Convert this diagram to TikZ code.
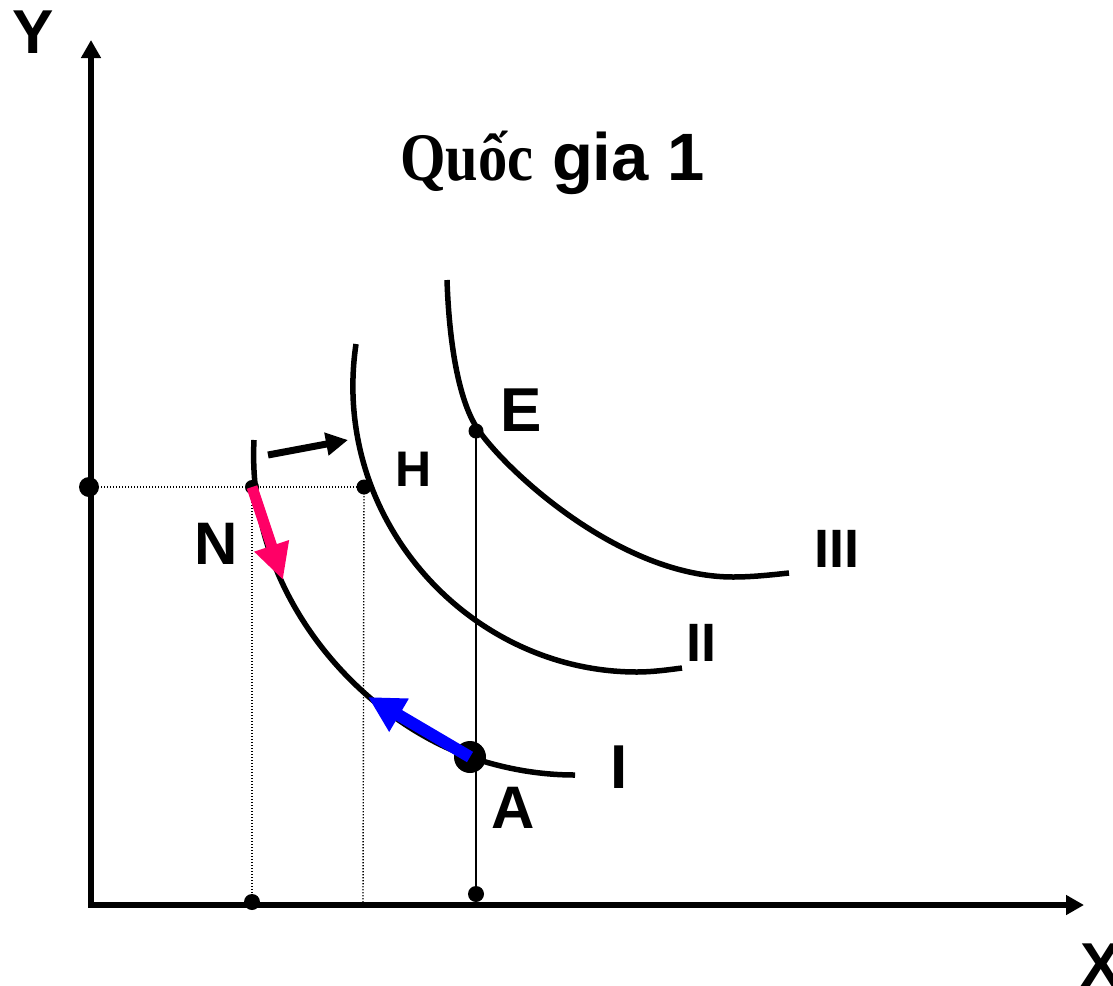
\documentclass[tikz,border=0pt]{standalone}
\usepackage{graphicx}
\usepackage{fontspec}
\setmainfont{Liberation Sans}
\newfontfamily\titleserif{Liberation Serif}
\usetikzlibrary{arrows.meta}
\definecolor{pinkarr}{RGB}{255,0,102}
\definecolor{bluearr}{RGB}{0,0,255}
\tikzset{
  axisline/.style={line width=5.5pt,-{Triangle[length=18pt,width=19pt]}},
  curveline/.style={line width=5.5pt},
  dotline/.style={line width=1.4pt,dash pattern=on 1.4pt off 1.6pt},
  thinline/.style={line width=1.8pt},
  dotnode/.style={circle,fill=black,inner sep=0pt,minimum size=#1},
  dotnode/.default=15pt,
  lbl/.style={font=\fontsize{#1}{#1}\selectfont\bfseries,inner sep=0pt},
  lbl/.default=62pt,
}
\begin{document}
\begin{tikzpicture}[x=1pt,y=-1pt]
\useasboundingbox (0,0) rectangle (1113,985);
\fill[white] (0,0) rectangle (1113,985);
% axes
\coordinate (O) at (91,905);
\coordinate (ytip) at (91,40);
\coordinate (xtip) at (1084,905);
\draw[axisline] (O) -- (ytip);
\draw[axisline] ([xshift=-2.75pt]O) -- (xtip);
% dots (positions)
\node[dotnode=20pt] (Yd) at (89,487) {};
\node[dotnode=14pt] (N) at (252,487) {};
\node[dotnode=15pt] (H) at (364,487) {};
\node[dotnode=15pt] (E) at (476,431) {};
\node[dotnode=16pt] (XN) at (252,902) {};
\node[dotnode=16pt] (XE) at (476,894) {};
\coordinate (XH) at (363,903);
% guide lines
\draw[dotline] (Yd.center) -- (H.center);
\draw[dotline] (N.center) -- (XN.center);
\draw[dotline] (H.center) -- (XH);
\draw[thinline] (E.center) -- (XE.center);
% indifference curves
\draw[curveline] (254,440) .. controls (246,600) and (366,721) .. (470,757)
                 .. controls (505,769) and (540,775) .. (575,775);
\draw[curveline] (356,344) .. controls (330,520) and (470,672) .. (637,672)
                 .. controls (652,672) and (667,670) .. (682,668);
\draw[curveline] (447,280) .. controls (449,340) and (458,399) .. (477,428)
                 .. controls (505,470) and (620,577) .. (733,577)
                 .. controls (752,577) and (770,575) .. (789,573);
% big dot A
\node[dotnode=32pt] (A) at (470,757) {};
% arrows
\coordinate (k1) at (268,455);
\coordinate (k2) at (348,440);
\draw[line width=7pt,-{Triangle[length=22pt,width=22pt]}] (k1) -- (k2);
\coordinate (p2) at (283,580);
\draw[pinkarr,line width=11pt,-{Triangle[length=36pt,width=34pt]}] (N.center) -- (p2);
\coordinate (b2) at (368,697);
\draw[bluearr,line width=12pt,-{Triangle[length=36pt,width=36pt]}] (A.center) -- (b2);
% labels
\node[lbl] (ly) at (33,32) {Y};
\node[lbl] (lx) at (1101,965) {X};
\node[lbl] (le) at (521,410) {E};
\node[lbl=50pt] (lh) at (414,469) {H};
\node[lbl=60pt] (ln) at (216,544) {N};
\node[lbl=60pt] (la) at (513,808) {A};
\node[lbl=62pt] (li) at (619,767) {I};
\node[lbl=54pt] (lii) at (701,643) {II};
\node[lbl=54pt] (liii) at (837,549) {III};
\node[anchor=base west,inner sep=0pt] (title) at (400,180) {\bfseries\scalebox{0.86}[1]{\fontsize{68pt}{68pt}\selectfont\titleserif Quốc}\fontsize{67pt}{67pt}\selectfont\ gia 1};
\end{tikzpicture}
\end{document}
